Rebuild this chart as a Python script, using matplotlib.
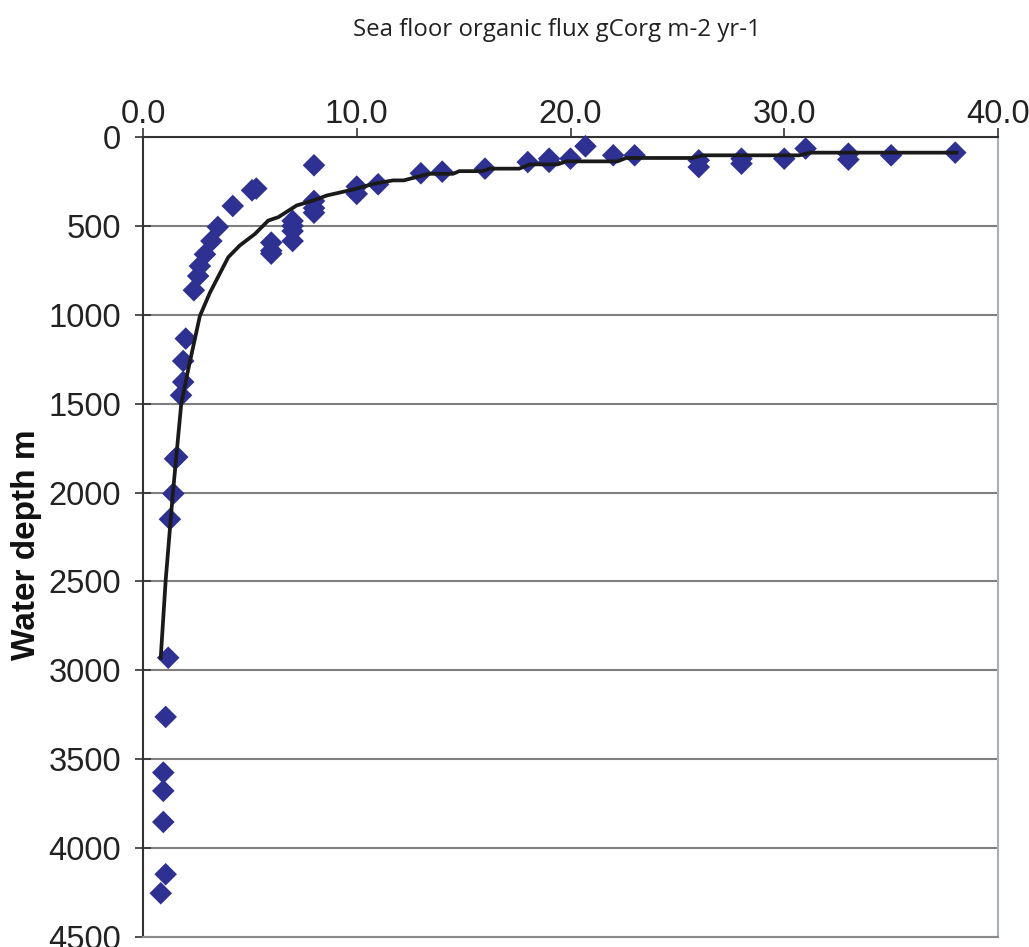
import matplotlib
matplotlib.use("Agg")
import matplotlib.pyplot as plt
import numpy as np

# Observed data: sea-floor organic flux (gCorg m-2 yr-1) vs water depth (m)
flux = [38.0, 35.0, 33.0, 33.0, 31.0, 30.0, 28.0, 28.0, 26.0, 26.0,
        23.0, 22.0, 20.7, 20.0, 19.0, 19.0, 18.0, 16.0, 14.0, 13.0,
        11.0, 10.0, 10.0, 8.0, 8.0, 8.0, 8.0, 7.0, 7.0, 7.0,
        7.0, 6.0, 6.0, 6.0, 5.3, 5.1, 4.2, 3.5, 3.2, 2.9,
        2.66, 2.58, 2.38, 2.0, 1.88, 1.88, 1.78, 1.6, 1.5, 1.42,
        1.26, 1.18, 1.06, 0.95, 0.95, 0.95, 1.06, 0.83]
depth = [88, 103, 94, 127, 65, 122, 122, 150, 131, 169,
         103, 103, 52, 122, 122, 140, 141, 178, 195, 204,
         266, 279, 320, 159, 360, 400, 426, 472, 500, 529,
         585, 594, 640, 656, 290, 300, 388, 506, 585, 660,
         726, 782, 862, 1134, 1260, 1378, 1453, 1800, 1810, 2006,
         2150, 2929, 3262, 3575, 3678, 3853, 4147, 4254]

# Trend line as drawn in the figure
line_flux = [0.83, 1.06, 1.40, 1.79, 2.12, 2.66, 3.13, 3.99, 4.53, 5.24,
             5.86, 6.33, 7.19, 7.97, 8.6, 9.84, 10.8, 11.7, 12.2, 12.8,
             13.4, 14.5, 14.8, 15.9, 16.2, 17.6, 18.1, 19.4, 19.8, 22.2,
             22.6, 25.7, 26.2, 30.7, 31.2, 38.06]
line_depth = [2929, 2494, 2000, 1500, 1305, 1007, 876, 676, 610, 545,
              470, 451, 385, 357, 329, 295, 263, 244, 244, 225,
              207, 207, 192, 192, 178, 178, 154, 154, 137, 137,
              118, 118, 103, 103, 88, 88]

x_ticks = [0, 10, 20, 30, 40]
x_tick_labels = ["0.0", "10.0", "20.0", "30.0", "40.0"]
y_ticks = [0, 500, 1000, 1500, 2000, 2500, 3000, 3500, 4000, 4500]

narrow = ["Liberation Sans Narrow", "Liberation Sans", "DejaVu Sans"]

W, H = 1029, 947
fig = plt.figure(figsize=(W / 100, H / 100), dpi=100)
ax = fig.add_axes([143 / W, 1 - 937 / H, (998 - 143) / W, (937 - 137) / H])

ax.scatter(flux, depth, marker="D", s=11.5 ** 2, color="#2E3192",
           edgecolors="none", zorder=3, clip_on=False)
ax.plot(line_flux, line_depth, color="#1a1a1a", lw=2.7, zorder=4)

ax.set_xlim(0, 40)
ax.set_ylim(4500, 0)
ax.xaxis.tick_top()
ax.set_xticks(x_ticks)
ax.set_xticklabels(x_tick_labels)
ax.set_yticks(y_ticks)
ax.set_yticklabels([str(v) for v in y_ticks])

for lab in ax.get_xticklabels() + ax.get_yticklabels():
    lab.set_family(narrow)
    lab.set_fontsize(23.5)
    lab.set_color("#222222")

ax.tick_params(axis="x", direction="out", length=6.5, width=1.2,
               color="#333333", pad=-1.5)
ax.tick_params(axis="y", direction="inout", length=11.5, width=1.2,
               color="#333333", pad=10)

ax.yaxis.grid(True, color="#7f7f7f", lw=1.5)
ax.set_axisbelow(True)

ax.spines["top"].set_color("#333333")
ax.spines["top"].set_linewidth(1.5)
ax.spines["left"].set_color("#333333")
ax.spines["left"].set_linewidth(1.5)
ax.spines["right"].set_color("#a8b0b8")
ax.spines["right"].set_linewidth(1.5)
ax.spines["bottom"].set_color("#8a8a8a")
ax.spines["bottom"].set_linewidth(1.5)

fig.text(557 / W, 1 - 30 / H, "Sea floor organic flux gCorg m-2 yr-1",
         ha="center", va="center", fontsize=17.3, family=["Open Sans", "DejaVu Sans"],
         color="#222222")
fig.text(27 / W, 1 - 545 / H, "Water depth m", rotation=90,
         ha="center", va="center", fontsize=24, fontweight="bold",
         family=["Liberation Sans", "DejaVu Sans"], color="#111111")

fig.savefig("out.png", dpi=100)
